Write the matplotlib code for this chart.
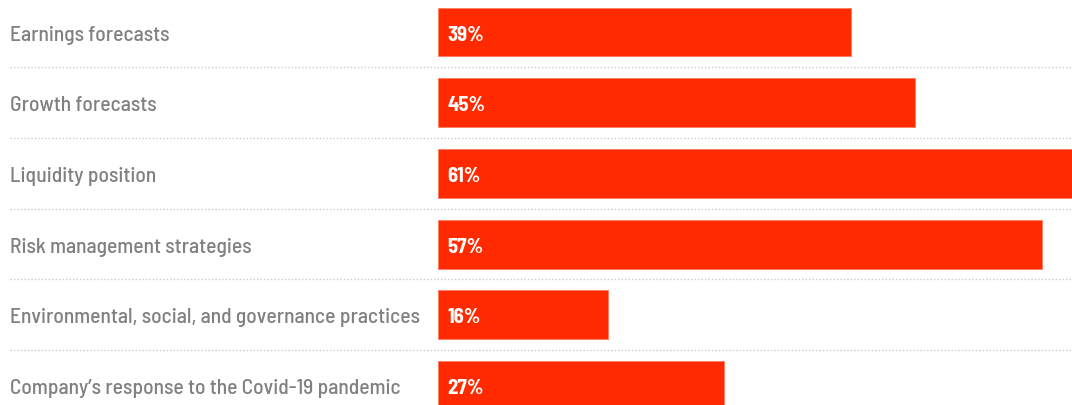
import matplotlib
matplotlib.use("Agg")
import matplotlib.pyplot as plt

categories = [
    "Earnings forecasts",
    "Growth forecasts",
    "Liquidity position",
    "Risk management strategies",
    "Environmental, social, and governance practices",
    "Company\u2019s response to the Covid-19 pandemic",
]
values = [39, 45, 61, 57, 16, 27]

bar_color = "#ff2a00"
label_color = "#808080"
font = ["Barlow Semi Condensed", "DejaVu Sans"]

fig = plt.figure(figsize=(10.72, 4.06), dpi=100)
ax = fig.add_axes([0, 0, 1, 1])

# 10.6 px per percentage point, bars start 438 px from the left edge
px = 10.6
ax.set_xlim(-438 / px, 634 / px)
ax.set_ylim(5.275, -0.467)

rows = list(range(len(categories)))
ax.barh(rows, values, height=0.69, color=bar_color, edgecolor="#ff7a60", linewidth=0.6)

label_x = -428 / px
for i, (cat, v) in enumerate(zip(categories, values)):
    ax.text(label_x, i + 0.03, cat, ha="left", va="center", color=label_color,
            fontsize=15.5, fontweight=500, family=font)
    ax.text(9 / px, i + 0.03, f"{v}%", ha="left", va="center", color="white",
            fontsize=15, fontweight="bold", family=font)

# dotted separators between rows
for i in range(len(categories) - 1):
    ax.hlines(i + 0.5, label_x, 634 / px, colors="#cccccc", linewidth=1,
              linestyles=(0, (1, 1.5)))

ax.axis("off")
fig.savefig("out.png", dpi=100)
